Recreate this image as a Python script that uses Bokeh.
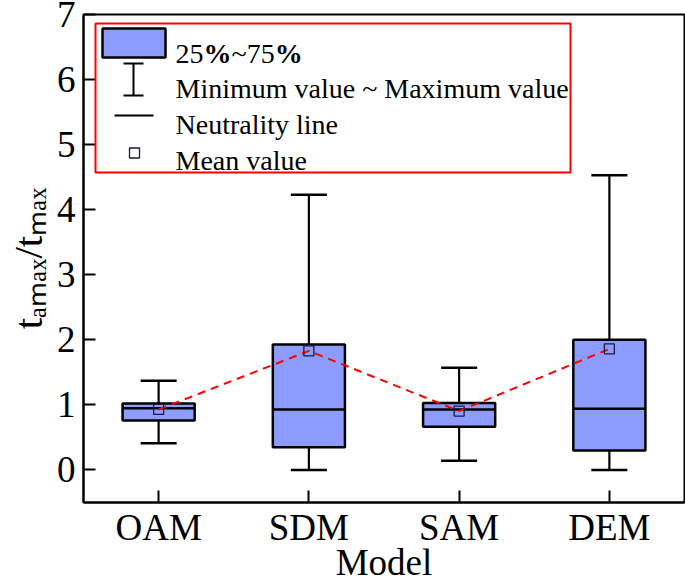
import numpy as np
from bokeh.plotting import figure
from bokeh.models import Range1d, FixedTicker, Label, BoxAnnotation, ColumnDataSource
from bokeh.embed import file_html
from bokeh.resources import INLINE

# ---- data ----
models = ["OAM", "SDM", "SAM", "DEM"]
min_vals = [0.41, 0.00, 0.14, 0.00]
q1_vals = [0.76, 0.35, 0.665, 0.30]
median_vals = [0.95, 0.93, 0.93, 0.94]
q3_vals = [1.02, 1.93, 1.03, 2.00]
max_vals = [1.37, 4.23, 1.57, 4.53]
mean_vals = [0.93, 1.83, 0.905, 1.86]
y_ticks = [0, 1, 2, 3, 4, 5, 6, 7]

legend_labels = ["Minimum value ~ Maximum value", "Neutrality line", "Mean value"]
y_label = "t\u2090\u2098\u2090\u2093/t\u2098\u2090\u2093"   # t_amax / t_max
x_label = "Model"

# ---- layout (canvas pixels) ----
FONT = "Liberation Serif"
F_L, F_R, F_T, F_B = 83, 684, 14, 502
X0, X1 = 0.5, 4.5
Y0, Y1 = -0.5, 7.0


def px2x(px):
    return X0 + (px - F_L) * (X1 - X0) / (F_R - F_L)


def px2y(py):
    return Y1 - (py - F_T) * (Y1 - Y0) / (F_B - F_T)


xpos = list(range(1, len(models) + 1))
BOX_W = 0.48
CAP_W = 0.24
BOX_FILL = "#8c9cff"

src = ColumnDataSource(dict(
    x=xpos, mn=min_vals, q1=q1_vals, med=median_vals, q3=q3_vals, mx=max_vals, mean=mean_vals,
    xl=[x - BOX_W / 2 for x in xpos], xr=[x + BOX_W / 2 for x in xpos],
    cl=[x - CAP_W / 2 for x in xpos], cr=[x + CAP_W / 2 for x in xpos],
))

p = figure(
    frame_width=F_R - F_L, frame_height=F_B - F_T,
    x_range=Range1d(X0, X1), y_range=Range1d(Y0, Y1),
    output_backend="svg", toolbar_location=None,
    min_border_left=F_L, min_border_right=1, min_border_top=F_T, min_border_bottom=79,
    background_fill_color="white", border_fill_color="white",
)
p.grid.visible = False
p.outline_line_color = "black"
p.outline_line_width = 2
p.outline_line_alpha = 1

# whiskers
p.segment(x0="x", y0="mn", x1="x", y1="q1", source=src, line_color="black", line_width=2.2)
p.segment(x0="x", y0="q3", x1="x", y1="mx", source=src, line_color="black", line_width=2.2)
p.segment(x0="cl", y0="mn", x1="cr", y1="mn", source=src, line_color="black", line_width=2.5)
p.segment(x0="cl", y0="mx", x1="cr", y1="mx", source=src, line_color="black", line_width=2.5)
# boxes
p.vbar(x="x", width=BOX_W, bottom="q1", top="q3", source=src, fill_color=BOX_FILL,
       line_color="black", line_width=2.5)
# median
p.segment(x0="xl", y0="med", x1="xr", y1="med", source=src, line_color="black", line_width=2.5)
# mean line and markers
p.line(x="x", y="mean", source=src, line_color="red", line_width=2, line_dash="8 6")
p.scatter(x="x", y="mean", source=src, marker="square", size=10, fill_alpha=0,
          line_color="#1a1a40", line_width=1.3)

# axes
for ax in (p.xaxis, p.yaxis):
    ax.axis_line_width = 2
    ax.axis_line_color = "black"
    ax.major_tick_line_width = 2
    ax.major_tick_in = 12
    ax.major_tick_out = 0
    ax.minor_tick_line_color = None
    ax.major_label_text_font = FONT
    ax.major_label_text_font_size = "37px"
    ax.major_label_text_color = "black"
    ax.axis_label_text_font = FONT
    ax.axis_label_text_font_size = "37px"
    ax.axis_label_text_font_style = "normal"
    ax.axis_label_text_color = "black"

p.xaxis.ticker = FixedTicker(ticks=xpos)
p.xaxis.major_label_overrides = {x: m for x, m in zip(xpos, models)}
p.xaxis.major_label_standoff = 4
p.xaxis.axis_label = x_label
p.xaxis.axis_label_standoff = -9

p.yaxis.ticker = FixedTicker(ticks=y_ticks)
p.yaxis.major_label_standoff = 8
p.yaxis.axis_label = y_label
p.yaxis.axis_label_text_font_size = "41px"
p.yaxis.axis_label_standoff = 3

# legend box
p.add_layout(BoxAnnotation(left=px2x(95), right=px2x(570), top=px2y(23), bottom=px2y(172),
                           fill_alpha=0, line_color="red", line_width=2, line_alpha=1))
# legend icons
p.rect(x=[px2x(133.5)], y=[px2y(42.5)], width=63, height=29, width_units="screen",
       height_units="screen", fill_color=BOX_FILL, line_color="black", line_width=2.5)
p.segment(x0=[px2x(133)], y0=[px2y(63)], x1=[px2x(133)], y1=[px2y(95)], line_color="black", line_width=2)
p.segment(x0=[px2x(123), px2x(123)], y0=[px2y(63), px2y(95)], x1=[px2x(143), px2x(143)],
          y1=[px2y(63), px2y(95)], line_color="black", line_width=2.2)
p.segment(x0=[px2x(114)], y0=[px2y(115)], x1=[px2x(153)], y1=[px2y(115)], line_color="black", line_width=2.2)
p.scatter(x=[px2x(134)], y=[px2y(152.5)], marker="square", size=10, fill_alpha=0,
          line_color="#1a1a40", line_width=1.3)

# first legend entry: "25%~75%" with bold percent signs
x_cur = 175
for txt, bold, em in [("25", False, 1.0), ("%", True, 1.0), ("~75", False, 1.541), ("%", True, 1.0)]:
    p.add_layout(Label(x=px2x(x_cur), y=px2y(53), text=txt, text_font=FONT,
                       text_font_size="28px", text_color="black",
                       text_font_style="bold" if bold else "normal",
                       text_align="left", text_baseline="alphabetic"))
    x_cur += em * 28
for txt, base in zip(legend_labels, [88, 124, 160]):
    p.add_layout(Label(x=px2x(175), y=px2y(base), text=txt, text_font=FONT,
                       text_font_size="28px", text_color="black",
                       text_align="left", text_baseline="alphabetic"))

open("out.html", "w").write(file_html(p, INLINE))
